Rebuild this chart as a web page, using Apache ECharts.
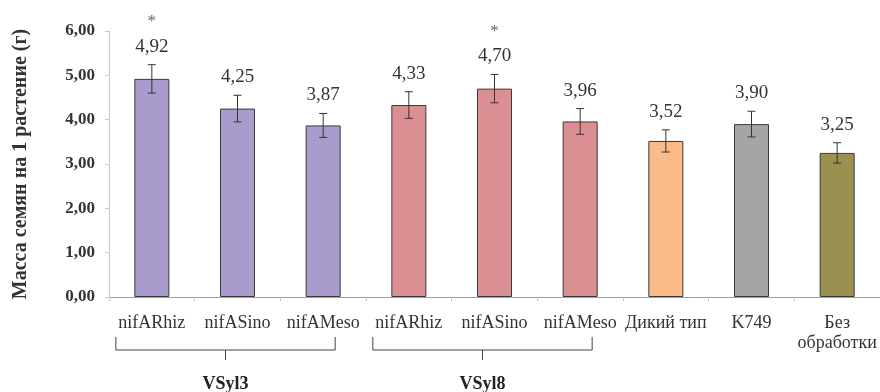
<!DOCTYPE html>
<html>
<head>
<meta charset="utf-8">
<script src="https://cdn.jsdelivr.net/npm/echarts@6/dist/echarts.min.js"></script>
<style>
html,body{margin:0;padding:0;background:#fff;}
#chart{width:880px;height:392px;}
</style>
</head>
<body>
<div id="chart"></div>
<script>
var categories = ['nifARhiz', 'nifASino', 'nifAMeso', 'nifARhiz', 'nifASino', 'nifAMeso', 'Дикий тип', 'K749', 'Без\nобработки'];
var values = [4.92, 4.25, 3.87, 4.33, 4.70, 3.96, 3.52, 3.90, 3.25];
var errors = [0.32, 0.30, 0.27, 0.30, 0.32, 0.29, 0.25, 0.29, 0.23];
var significant = [true, false, false, false, true, false, false, false, false];
var groups = [
  {name: 'VSyl3', from: 0, to: 2},
  {name: 'VSyl8', from: 3, to: 5}
];
var yTicks = [0, 1, 2, 3, 4, 5, 6];
var barColors = ['#a99bcb', '#a99bcb', '#a99bcb', '#da8f93', '#da8f93', '#da8f93', '#fbbb88', '#a5a5a5', '#9a9150'];

var FONT = 'Liberation Serif';
var chart = echarts.init(document.getElementById('chart'));

function fmt(v) { return v.toFixed(2).replace('.', ','); }

var option = {
  animation: false,
  grid: {left: 109, right: -8, top: 31, bottom: 95, containLabel: false},
  xAxis: {
    type: 'category',
    data: categories,
    axisLine: {lineStyle: {color: '#a0a0a0', width: 1}},
    axisTick: {show: true, length: 4, lineStyle: {color: '#c8c8c8'}},
    axisLabel: {fontFamily: FONT, fontSize: 18, color: '#333', margin: 16, lineHeight: 20, interval: 0}
  },
  yAxis: {
    type: 'value',
    min: yTicks[0], max: yTicks[yTicks.length - 1], interval: 1,
    name: 'Масса семян на 1 растение (г)',
    nameLocation: 'middle',
    nameGap: 78,
    nameRotate: 90,
    nameTextStyle: {fontFamily: FONT, fontSize: 20, fontWeight: 'bold', color: '#333'},
    axisLine: {show: true, lineStyle: {color: '#c8c8c8'}},
    axisTick: {show: true, length: 4, lineStyle: {color: '#c8c8c8'}},
    splitLine: {show: false},
    axisLabel: {fontFamily: FONT, fontSize: 17, fontWeight: 'bold', color: '#333', margin: 14, formatter: function (v) { return fmt(v); }}
  },
  series: [
    {
      type: 'bar',
      data: values.map(function (v, i) { return {value: v, itemStyle: {color: barColors[i]}}; }),
      barWidth: 35,
      itemStyle: {borderColor: '#3a3a3a', borderWidth: 1}
    },
    {
      type: 'custom',
      data: values.map(function (v, i) { return [i, v, errors[i]]; }),
      z: 10,
      renderItem: function (params, api) {
        var i = api.value(0), v = api.value(1), e = api.value(2);
        var top = api.coord([i, v + e]);
        var bot = api.coord([i, v - e]);
        var cap = 4;
        var children = [
          {type: 'line', shape: {x1: top[0], y1: top[1], x2: bot[0], y2: bot[1]}, style: {stroke: '#333', lineWidth: 1}},
          {type: 'line', shape: {x1: top[0] - cap, y1: top[1], x2: top[0] + cap, y2: top[1]}, style: {stroke: '#333', lineWidth: 1}},
          {type: 'line', shape: {x1: bot[0] - cap, y1: bot[1], x2: bot[0] + cap, y2: bot[1]}, style: {stroke: '#333', lineWidth: 1}},
          {type: 'text', style: {text: fmt(v), x: top[0], y: top[1] - 18, align: 'center', verticalAlign: 'middle', fontFamily: FONT, fontSize: 19, fill: '#333'}}
        ];
        if (significant[i]) {
          children.push({type: 'text', style: {text: '*', x: top[0], y: top[1] - 43, align: 'center', verticalAlign: 'middle', fontFamily: FONT, fontSize: 17, fill: '#666'}});
        }
        return {type: 'group', children: children};
      }
    }
  ]
};
chart.setOption(option);

function drawBrackets() {
  var els = [];
  groups.forEach(function (g) {
    var x1 = chart.convertToPixel({xAxisIndex: 0}, g.from) - 36;
    var x2 = chart.convertToPixel({xAxisIndex: 0}, g.to) + 12;
    var yTop = 337, yLine = 350, yTick = 360;
    var xm = (x1 + x2) / 2;
    els.push({type: 'polyline', shape: {points: [[x1, yTop], [x1, yLine], [x2, yLine], [x2, yTop]]}, style: {stroke: '#444', lineWidth: 1, fill: null}});
    els.push({type: 'line', shape: {x1: xm, y1: yLine, x2: xm, y2: yTick}, style: {stroke: '#444', lineWidth: 1}});
    els.push({type: 'text', style: {text: g.name, x: xm, y: 384, align: 'center', verticalAlign: 'middle', fontFamily: FONT, fontWeight: 'bold', fontSize: 18, fill: '#222'}});
  });
  chart.setOption({graphic: els});
}
drawBrackets();
</script>
</body>
</html>
